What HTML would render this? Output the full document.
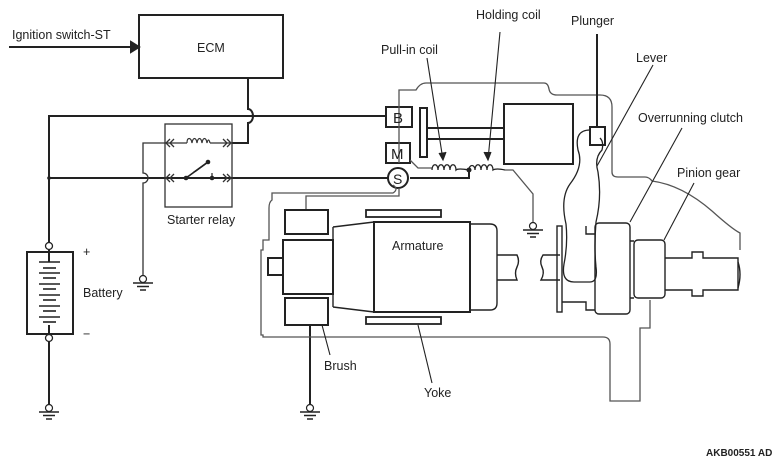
<!DOCTYPE html>
<html><head><style>
body{margin:0;background:#fff}
svg{display:block}
text{font-family:"Liberation Sans",Arial,sans-serif;font-size:12.5px;fill:#222}
</style></head><body>
<svg width="784" height="465" viewBox="0 0 784 465" xmlns="http://www.w3.org/2000/svg">
<defs>
<g id="gnd"><circle cx="0" cy="0" r="3.5" fill="#fff" stroke="#222" stroke-width="1.2"/><line x1="-10" y1="4" x2="10" y2="4" stroke="#222" stroke-width="1.5"/><line x1="-6" y1="7.5" x2="6" y2="7.5" stroke="#222" stroke-width="1.5"/><line x1="-3" y1="11" x2="3" y2="11" stroke="#222" stroke-width="1.5"/></g>
</defs>
<g fill="none" stroke="#222" stroke-width="2">
<line x1="9" y1="47" x2="132" y2="47"/>
<polygon points="131,42 139,47 131,52" fill="#222"/>
<rect x="139" y="15" width="144" height="63"/>
<path d="M248,78 V109 a5,7 0 0 1 0,14 V143 H232"/>
<path d="M49,245 V116 H386"/>
<rect x="386" y="107" width="26" height="20"/>
<rect x="386" y="143" width="24" height="20"/>
<circle cx="398" cy="178" r="10" fill="#fff"/>
<path d="M49,178 H388"/>
<rect x="27" y="252" width="46" height="82"/>
<line x1="49" y1="248" x2="49" y2="262"/>
<line x1="49" y1="325" x2="49" y2="334"/>
<line x1="49" y1="341" x2="49" y2="404"/>
<line x1="310" y1="325" x2="310" y2="404"/>
</g>
<g stroke="#222" stroke-width="1.6">
<line x1="39" y1="262" x2="60" y2="262"/><line x1="43" y1="268" x2="56" y2="268"/>
<line x1="39" y1="273" x2="60" y2="273"/><line x1="43" y1="278" x2="56" y2="278"/>
<line x1="39" y1="284" x2="60" y2="284"/><line x1="43" y1="289" x2="56" y2="289"/>
<line x1="39" y1="295" x2="60" y2="295"/><line x1="43" y1="300" x2="56" y2="300"/>
<line x1="39" y1="306" x2="60" y2="306"/><line x1="43" y1="311" x2="56" y2="311"/>
<line x1="39" y1="317" x2="60" y2="317"/><line x1="43" y1="322" x2="56" y2="322"/>
</g>
<circle cx="49" cy="246" r="3.5" fill="#fff" stroke="#222" stroke-width="1.3"/>
<circle cx="49" cy="338" r="3.5" fill="#fff" stroke="#222" stroke-width="1.3"/>
<circle cx="49" cy="178" r="1.8" fill="#222"/>
<use href="#gnd" x="49" y="408"/>
<use href="#gnd" x="143" y="279"/>
<use href="#gnd" x="310" y="408"/>
<use href="#gnd" x="533" y="226"/>
<g fill="none" stroke="#333" stroke-width="1.3">
<rect x="165" y="124" width="67" height="83"/>
<path d="M143,275 V183 a5,5 0 0 0 0,-10 V143 H187 M210,143 H232"/>
<path d="M187,143 c0,-6 4,-6 5,0 c1,-6 4,-6 5,0 c1,-6 4,-6 5,0 c1,-6 4,-6 5,0 c1,-4 2,-4 3,0" stroke-width="1.2"/>
<path d="M170,139 l-4,4 4,4 M174,139 l-4,4 4,4 M227,139 l4,4 -4,4 M223,139 l4,4 -4,4"/>
<path d="M170,174 l-4,4 4,4 M174,174 l-4,4 4,4 M227,174 l4,4 -4,4 M223,174 l4,4 -4,4"/>
<path d="M186,178 L208,162" stroke="#222" stroke-width="1.6"/>
<path d="M212,178 V173"/>
</g>
<rect x="188" y="172" width="22" height="5" fill="#fff"/>
<path d="M186,178 L208,162" stroke="#222" stroke-width="1.6"/>
<circle cx="186" cy="178" r="2.3" fill="#222"/><circle cx="208" cy="162" r="2.3" fill="#222"/><circle cx="212" cy="178" r="2.3" fill="#222"/>
<g fill="none" stroke="#555" stroke-width="1.3">
<path d="M399,163 V90 H416 q4,-7 10,-7 H544 q4,0 5,6 q1,6 8,6 H600 q12,0 12,12 V172 q0,5 6,5 H645 q4,0 7,4 q30,4 60,30 q20,18 28,22 V250"/>
<path d="M393,185 q6,4 0,8 H272 V200 q-3,2 -3,8 V240 h-6 v10 h-2 v85 h2 v2 H603 q7,0 7,7 V401 h30 V328 h10 V300"/>
<path d="M399,188 V196 H306 V210"/>
<path d="M410,160 l8,8 H432 M505,170 h8 l20,24 V222"/>
</g>
<g fill="none" stroke="#222" stroke-width="2">
<rect x="420" y="108" width="7" height="49"/>
<path d="M427,128 H504 M427,139 H504"/>
<rect x="504" y="104" width="69" height="60"/>
<rect x="590" y="127" width="15" height="18"/>
<path d="M597,34 V127"/>
<path d="M410,178 H469 V170"/>
</g>
<g fill="none" stroke="#222" stroke-width="1.3">
<path d="M432,170 c0,-7 6,-7 6,0 c0,-7 6,-7 6,0 c0,-7 6,-7 6,0 c0,-7 6,-7 6,0 q2,-2 13,0"/>
<path d="M469,170 c0,-6 6,-6 6,0 c0,-7 6,-7 6,0 c0,-7 6,-7 6,0 c0,-7 6,-7 6,0 q3,-2 12,0"/>
</g>
<circle cx="469" cy="170" r="2.5" fill="#222"/>
<path d="M590,130 q-16,0 -12,20 q6,16 -8,34 q-10,14 -4,40 q2,20 -2,40 q-3,18 10,18 h16 q8,0 6,-15 q-2,-20 0,-45 q6,-25 2,-50 q-4,-14 4,-22 q2,-8 -2,-12" fill="none" stroke="#222" stroke-width="1.3"/>
<g fill="none" stroke="#222" stroke-width="2">
<rect x="285" y="210" width="43" height="24"/>
<rect x="283" y="240" width="50" height="54"/>
<rect x="268" y="258" width="15" height="17"/>
<rect x="285" y="298" width="43" height="27"/>
<rect x="366" y="210" width="75" height="7" stroke-width="1.8"/>
<rect x="366" y="317" width="75" height="7" stroke-width="1.8"/>
<rect x="374" y="222" width="96" height="90"/>
</g>
<g fill="none" stroke="#222" stroke-width="1.4">
<path d="M333,227 L374,222 M333,307 L374,312 M333,227 V307"/>
<path d="M470,224 H490 q7,0 7,7 V303 q0,7 -7,7 H470"/>
<path d="M497,255 H517 q3,6 0,12 q-3,6 0,13 H497"/>
<path d="M560,255 H543 q-4,6 -1,12 q3,6 -1,13 H560"/>
<rect x="557" y="226" width="5" height="86"/>
<path d="M562,302 H586 V310 H595"/>
<path d="M586,226 V234 H595"/>
<rect x="595" y="223" width="35" height="91" rx="4"/>
<path d="M630,241 H634 M630,298 H634"/>
<rect x="634" y="240" width="31" height="58" rx="4"/>
<path d="M665,258 H692 V252 H703 V258 H738 V290 H703 V296 H692 V290 H665"/>
<path d="M738,262 q4,12 0,26"/>
</g>
<g stroke="#222" stroke-width="1.1" fill="none">
<line x1="500" y1="32" x2="488" y2="160"/><path d="M484,152 l4,8 3,-8" fill="#222"/>
<line x1="427" y1="58" x2="443" y2="160"/><path d="M439,153 l4,7 3,-8" fill="#222"/>
<line x1="653" y1="65" x2="597" y2="166"/>
<line x1="682" y1="128" x2="630" y2="222"/>
<line x1="694" y1="183" x2="664" y2="240"/>
<line x1="322" y1="325" x2="330" y2="355"/>
<line x1="418" y1="325" x2="432" y2="383"/>
</g>
<text x="12" y="39">Ignition switch-ST</text>
<text x="197" y="52">ECM</text>
<text x="476" y="19">Holding coil</text>
<text x="571" y="25">Plunger</text>
<text x="381" y="54">Pull-in coil</text>
<text x="636" y="62">Lever</text>
<text x="638" y="122">Overrunning clutch</text>
<text x="677" y="177">Pinion gear</text>
<text x="393" y="123" style="font-size:15px">B</text>
<text x="391" y="159" style="font-size:15px">M</text>
<text x="393" y="184" style="font-size:14px">S</text>
<text x="167" y="224">Starter relay</text>
<text x="83" y="297">Battery</text>
<text x="83" y="256">+</text>
<text x="83" y="338">−</text>
<text x="392" y="250">Armature</text>
<text x="324" y="370">Brush</text>
<text x="424" y="397">Yoke</text>
<text x="706" y="456" style="font-size:10px;font-weight:bold">AKB00551 AD</text>
</svg>
</body></html>
